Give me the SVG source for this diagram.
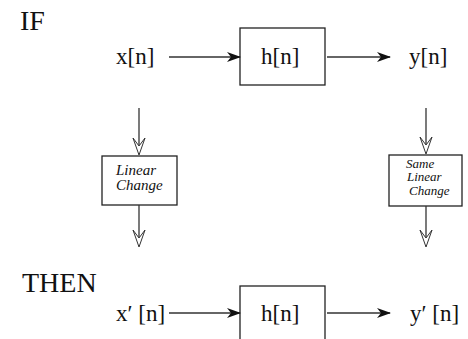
<svg xmlns="http://www.w3.org/2000/svg" width="468" height="339" viewBox="0 0 468 339">
<style>
.t{font-family:"Liberation Serif","Times New Roman",serif;fill:#111}
.sig{font-size:23px}
.hd{font-size:28px}
.it{font-family:"Liberation Serif","Times New Roman",serif;font-style:italic;fill:#111}
.box{fill:#fff;stroke:#222;stroke-width:1.3}
.ln{stroke:#333;stroke-width:1.3;fill:none}
.oh{fill:#fff;stroke:#333;stroke-width:1}
</style>
<defs>
<marker id="ah" markerWidth="14" markerHeight="10" refX="13" refY="5" orient="auto" markerUnits="userSpaceOnUse">
<path d="M0,0 L14,5 L0,10 L4,5 Z" fill="#111"/>
</marker>
</defs>
<rect width="468" height="339" fill="#fff"/>
<text class="t hd" x="20" y="30">IF</text>
<text class="t hd" x="22" y="292">THEN</text>
<g id="x"><text class="t sig" x="116" y="64">x[n]</text></g>
<g id="h1"><rect class="box" x="240" y="28" width="85" height="57"/><text class="t sig" x="261" y="64">h[n]</text></g>
<g id="y"><text class="t sig" x="409" y="64">y[n]</text></g>
<g id="lc1"><rect class="box" x="102" y="156" width="75" height="49"/><text class="it" font-size="15" x="116" y="175">Linear</text><text class="it" font-size="15" x="116" y="190">Change</text></g>
<g id="lc2"><rect class="box" x="389" y="155" width="73" height="51"/><text class="it" font-size="13" x="406" y="167.5">Same</text><text class="it" font-size="13" x="407" y="181">Linear</text><text class="it" font-size="13" x="409" y="195">Change</text></g>
<g id="xp"><text class="t sig" x="116" y="321">x′ [n]</text></g>
<g id="h2"><rect class="box" x="240" y="286" width="85" height="60"/><text class="t sig" x="261" y="321">h[n]</text></g>
<g id="yp"><text class="t sig" x="410" y="321">y′ [n]</text></g>
<g id="connectors">
<line class="ln" x1="169" y1="57" x2="240" y2="57" marker-end="url(#ah)"/>
<line class="ln" x1="327" y1="57" x2="390" y2="57" marker-end="url(#ah)"/>
<line class="ln" x1="169" y1="313" x2="240" y2="313" marker-end="url(#ah)"/>
<line class="ln" x1="327" y1="313" x2="390" y2="313" marker-end="url(#ah)"/>
<line class="ln" x1="139" y1="108" x2="139" y2="147"/>
<path class="oh" d="M139,155 L133,138 L139,146 L145,138 Z"/>
<line class="ln" x1="139" y1="205" x2="139" y2="239"/>
<path class="oh" d="M139,247 L133,230 L139,238 L145,230 Z"/>
<line class="ln" x1="426" y1="108" x2="426" y2="146"/>
<path class="oh" d="M426,154 L420,137 L426,145 L432,137 Z"/>
<line class="ln" x1="426" y1="206" x2="426" y2="239"/>
<path class="oh" d="M426,247 L420,230 L426,238 L432,230 Z"/>
</g>
</svg>
